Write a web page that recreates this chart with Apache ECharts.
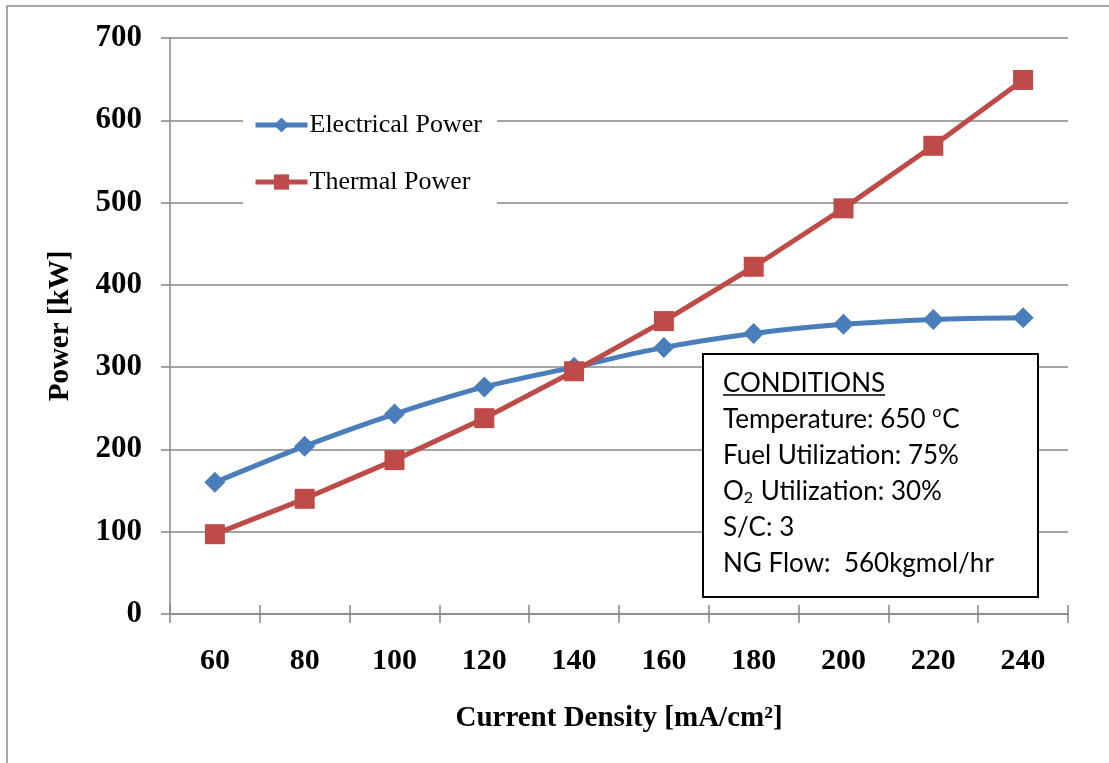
<!DOCTYPE html>
<html>
<head>
<meta charset="utf-8">
<title>Power vs Current Density</title>
<script src="https://cdn.jsdelivr.net/npm/echarts@6/dist/echarts.min.js"></script>
<style>
  html, body { margin: 0; padding: 0; background: #fff; }
  #chart { width: 1109px; height: 763px; }
</style>
</head>
<body>
<div id="chart"></div>
<script>
// Current density categories [mA/cm2]
const currentDensity = ['60', '80', '100', '120', '140', '160', '180', '200', '220', '240'];
// Stack output [kW]
const electricalPower = [160, 204, 243, 276, 300, 324, 341, 352, 358, 360];
const thermalPower = [97, 140, 187, 238, 295, 356, 422, 493, 569, 649];
// Power axis ticks
const powerMin = 0, powerMax = 700, powerStep = 100;
// Operating conditions note: each line is a list of [text, shift] pieces,
// shift 0 = normal, 1 = superscript, -1 = subscript
const conditionsTitle = 'CONDITIONS';
const conditionsLines = [
  [['Temperature: 650 ', 0], ['o', 1], ['C', 0]],
  [['Fuel Utilization: 75%', 0]],
  [['O', 0], ['2', -1], [' Utilization: 30%', 0]],
  [['S/C: 3', 0]],
  [['NG Flow:  560kgmol/hr', 0]]
];

const serif = '"Liberation Serif", "Times New Roman", serif';
const sans = 'Lato, "Open Sans", sans-serif';
const noteSize = 26;
const smallSize = 16;
const gridColor = '#868686';
const blue = '#4A7EBB';
const red = '#BE4B48';

const chart = echarts.init(document.getElementById('chart'), null, { renderer: 'canvas' });

// text widths for placing the note's pieces and the title underline
const ctx = document.createElement('canvas').getContext('2d');
function textWidth(str, size) {
  ctx.font = size + 'px ' + sans;
  return ctx.measureText(str).width;
}
const titleWidth = textWidth(conditionsTitle, noteSize);

const boxX = 703, boxY = 354, boxW = 335, boxH = 243;
const textX = boxX + 20;
const noteGraphics = [
  { type: 'rect', shape: { x: boxX, y: boxY, width: boxW, height: boxH },
    style: { fill: '#fff', stroke: '#000', lineWidth: 2 }, z: 100 },
  { type: 'text', x: textX, y: 384, z: 101,
    style: { text: conditionsTitle, font: noteSize + 'px ' + sans, fill: '#000', verticalAlign: 'middle' } },
  { type: 'line', z: 101,
    shape: { x1: textX, y1: 395, x2: textX + titleWidth, y2: 395 },
    style: { stroke: '#000', lineWidth: 1.3 } }
];
conditionsLines.forEach((pieces, i) => {
  const baseY = 420 + i * 36;
  let x = textX;
  pieces.forEach(([str, shift]) => {
    const size = shift === 0 ? noteSize : smallSize;
    const dy = shift === 1 ? -8 : (shift === -1 ? 6 : 0);
    noteGraphics.push({
      type: 'text', x: x, y: baseY + dy, z: 101,
      style: { text: str, font: size + 'px ' + sans, fill: '#000', verticalAlign: 'middle' }
    });
    x += textWidth(str, size) + (shift !== 0 ? 1 : 0);
  });
});

const option = {
  backgroundColor: '#fff',
  animation: false,
  grid: { left: 170, right: 41, top: 38, bottom: 149, containLabel: false },
  legend: {
    left: 243, top: 96,
    orient: 'vertical',
    backgroundColor: '#fff',
    padding: [16, 15, 18, 10],
    itemWidth: 52, itemHeight: 19, itemGap: 31,
    lineStyle: { width: 5 },
    textStyle: { fontFamily: serif, fontSize: 26, color: '#000', padding: [0, 0, 0, -3] },
    data: ['Electrical Power', 'Thermal Power']
  },
  xAxis: [
    {
      type: 'category', data: currentDensity, boundaryGap: true,
      name: 'Current Density [mA/cm²]', nameLocation: 'middle', nameGap: 90,
      nameTextStyle: { fontFamily: serif, fontSize: 29, fontWeight: 'bold', color: '#000' },
      axisLine: { lineStyle: { color: gridColor, width: 1.5 } },
      axisTick: { show: true, length: 9, lineStyle: { color: gridColor, width: 1.5 } },
      axisLabel: { fontFamily: serif, fontSize: 30, fontWeight: 'bold', color: '#000', margin: 32 },
      splitLine: { show: false }
    },
    {
      // inner half of the crossing category ticks
      type: 'category', data: currentDensity, boundaryGap: true, position: 'bottom', offset: 0,
      axisLine: { show: false },
      axisTick: { show: true, inside: true, length: 9, lineStyle: { color: gridColor, width: 1.5 } },
      axisLabel: { show: false },
      splitLine: { show: false }
    }
  ],
  yAxis: {
    type: 'value', min: powerMin, max: powerMax, interval: powerStep,
    name: 'Power [kW]', nameLocation: 'middle', nameGap: 95,
    nameTextStyle: { fontFamily: serif, fontSize: 29, fontWeight: 'bold', color: '#000' },
    axisLine: { show: true, lineStyle: { color: gridColor, width: 1.5 } },
    axisTick: { show: true, length: 9, lineStyle: { color: gridColor, width: 1.5 } },
    axisLabel: { fontFamily: serif, fontSize: 31, fontWeight: 'bold', color: '#000', margin: 28 },
    splitLine: { show: true, lineStyle: { color: gridColor, width: 1.5 } }
  },
  series: [
    {
      name: 'Electrical Power', type: 'line', data: electricalPower,
      smooth: 0.3, symbol: 'diamond', symbolSize: 21,
      itemStyle: { color: blue }, lineStyle: { color: blue, width: 5 },
      z: 3
    },
    {
      name: 'Thermal Power', type: 'line', data: thermalPower,
      symbol: 'rect', symbolSize: 20,
      itemStyle: { color: red }, lineStyle: { color: red, width: 5 },
      z: 4
    }
  ],
  graphic: [
    { type: 'rect', shape: { x: 7, y: 6, width: 1200, height: 900 },
      style: { fill: 'none', stroke: '#8c8c8c', lineWidth: 1.5 }, z: 0, silent: true },
    ...noteGraphics
  ]
};

chart.setOption(option);
</script>
</body>
</html>
